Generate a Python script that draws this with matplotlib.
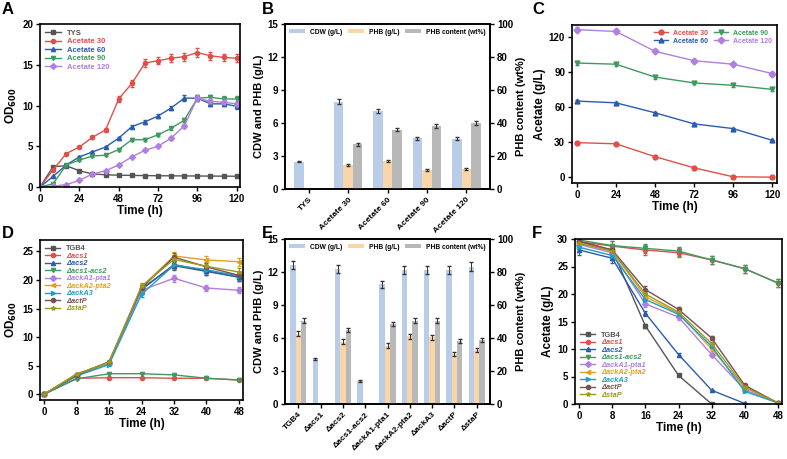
import numpy as np
import matplotlib
matplotlib.use("Agg")
import matplotlib.pyplot as plt

plt.rcParams['font.family'] = ['Liberation Sans', 'DejaVu Sans']
plt.rcParams['font.weight'] = 'bold'
plt.rcParams['axes.linewidth'] = 1.2

# ---- Panel A data ----
tA = list(range(0, 121, 8))
A_TYS = [0, 2.5, 2.6, 2.0, 1.6, 1.5, 1.45, 1.42, 1.4, 1.38, 1.37, 1.36, 1.35, 1.34, 1.33, 1.32]
A_30 = [0, 2.1, 4.1, 4.9, 6.1, 7.0, 10.8, 12.7, 15.2, 15.5, 15.8, 16.0, 16.5, 16.1, 15.9, 15.8]
A_60 = [0, 1.3, 2.7, 3.7, 4.3, 4.9, 6.0, 7.4, 8.0, 8.7, 9.7, 10.9, 10.9, 10.2, 10.2, 9.9]
A_90 = [0, 0.4, 2.7, 3.3, 3.8, 3.9, 4.6, 5.8, 5.8, 6.4, 7.2, 8.2, 10.9, 11.0, 10.8, 10.8]
A_120 = [0, 0.1, 0.3, 0.8, 1.6, 2.0, 2.7, 3.7, 4.5, 5.0, 6.0, 7.5, 10.9, 10.5, 10.4, 10.2]

# ---- Panel B data ----
B_cats = ['TYS', 'Acetate 30', 'Acetate 60', 'Acetate 90', 'Acetate 120']
B_cdw = [2.5, 7.95, 7.1, 4.6, 4.55]
B_phb = [0, 2.15, 2.55, 1.75, 1.8]
B_cont = [0, 27, 36, 38, 40]

# ---- Panel C data ----
tC = [0, 24, 48, 72, 96, 120]
C_30 = [29.5, 28.5, 17.5, 8, 0.3, 0]
C_60 = [65, 63.5, 55, 45.5, 41.5, 31.5]
C_90 = [97.5, 96.5, 85.5, 80.5, 78.5, 75]
C_120 = [126, 124.5, 107.5, 99.5, 96.5, 88.5]

# ---- Panel D data ----
tD = [0, 8, 16, 24, 32, 40, 48]
strains = ['TGB4', 'Δacs1', 'Δacs2', 'Δacs1-acs2', 'ΔackA1-pta1', 'ΔackA2-pta2', 'ΔackA3', 'ΔactP', 'ΔstaP']
D_vals = [
    [0, 3.4, 5.5, 18.5, 22.5, 21.5, 20.5],
    [0, 2.8, 2.9, 2.9, 2.8, 2.8, 2.5],
    [0, 3.3, 5.4, 18.3, 22.7, 21.6, 20.5],
    [0, 2.7, 3.6, 3.6, 3.4, 2.8, 2.5],
    [0, 3.3, 5.4, 18.2, 20.3, 18.6, 18.2],
    [0, 3.6, 5.5, 18.8, 24.2, 23.5, 23.2],
    [0, 3.2, 5.2, 17.5, 22.6, 21.8, 20.7],
    [0, 3.4, 5.7, 18.6, 24.0, 22.3, 20.8],
    [0, 3.5, 5.6, 18.9, 23.6, 22.4, 21.4],
]

# ---- Panel E data ----
E_cdw = [12.65, 4.1, 12.3, 2.1, 10.9, 12.2, 12.2, 12.2, 12.5]
E_phb = [6.4, 0, 5.65, 0, 5.3, 6.15, 6.05, 4.55, 4.9]
E_cont = [50.5, 0, 45, 0, 48.5, 50.5, 50.5, 38, 39]

# ---- Panel F data ----
nan = np.nan
F_vals = [
    [29.5, 28, 14.2, 5.2, 0, nan, nan],
    [29.5, 28.7, 28, 27.5, 26.2, 24.6, 22],
    [28, 26.5, 16.5, 9, 2.5, 0.1, nan],
    [29.8, 28.8, 28.3, 27.8, 26.2, 24.6, 22],
    [29, 27.5, 18.2, 15.8, 9, 2.6, 0.2],
    [29.3, 27.8, 19.5, 16.5, 10, 3, 0.2],
    [28.5, 27, 19, 16.3, 10.5, 2.3, 0.2],
    [29.6, 28, 20.8, 17.2, 12, 3.4, 0.2],
    [29.2, 27.8, 20, 16.7, 11, 3.1, 0.2],
]

cols4 = ['#555555', '#e0504a', '#2a5db0', '#3f9a5f', '#b07fe0']
colsS = ['#555555', '#e0504a', '#2a5db0', '#3f9a5f', '#b07fe0', '#e0a020', '#1fa0c0', '#7b5050', '#9a9a20']
marksS = ['s', 'o', '^', 'v', 'D', '<', '>', 'o', '*']
c_cdw, c_phb, c_cont = '#b9cde9', '#f9d6aa', '#b8b8b8'

TS = 7      # tick label size
LS = 8.5    # axis label size

fig = plt.figure(figsize=(7.87, 4.59), dpi=100)
W, H = 787, 459
def ax_at(x0, y0, x1, y1):
    return fig.add_axes([x0 / W, 1 - y1 / H, (x1 - x0) / W, (y1 - y0) / H])

def style(ax):
    ax.tick_params(labelsize=TS, width=1, length=3, pad=2)
    for l in ax.get_xticklabels() + ax.get_yticklabels():
        l.set_fontweight('bold')

def lbl(s, x, y):
    fig.text(x / W, 1 - y / H, s, fontsize=12, fontweight='bold', va='top', ha='left')

def line_legend(ax, handles, labels, colors, italic_from=None, **kw):
    leg = ax.legend(handles, labels, frameon=False, handlelength=2, borderaxespad=0.3, **kw)
    for i, (t, c) in enumerate(zip(leg.get_texts(), colors)):
        t.set_color(c)
        if italic_from is not None and i >= italic_from:
            t.set_fontstyle('italic')
    return leg

# Panel A
ax = ax_at(40, 24, 240, 187)
hs = []
namesA = ['TYS', 'Acetate 30', 'Acetate 60', 'Acetate 90', 'Acetate 120']
for y, c, m in zip([A_TYS, A_30, A_60, A_90, A_120], cols4, ['s', 'o', '^', 'v', 'D']):
    e = ax.errorbar(tA, y, yerr=np.array(y) * 0.03, color=c, marker=m, ms=3, lw=1, capsize=1.5, elinewidth=0.7)
    hs.append(e[0])
ax.set_xlim(0, 122); ax.set_ylim(0, 20)
ax.set_xticks(range(0, 121, 24)); ax.set_yticks(range(0, 21, 5))
ax.set_xlabel('Time (h)', fontsize=LS, fontweight='bold', labelpad=1)
ax.set_ylabel('OD$_{600}$', fontsize=LS, fontweight='bold', labelpad=2)
line_legend(ax, hs, namesA, cols4, loc='upper left', fontsize=5.5, labelspacing=0.15)
style(ax)
lbl('A', 2, 2)

def barpanel(rect, cats, cdw, phb, cont, rot, xfs):
    ax = ax_at(*rect)
    ax2 = ax.twinx()
    x = np.arange(len(cats)); w = 0.24
    ek = dict(elinewidth=0.7, ecolor='#333')
    ax.bar(x - w, cdw, w, color=c_cdw, yerr=np.array(cdw) * 0.03, capsize=1.5, error_kw=ek, label='CDW (g/L)')
    ax.bar(x, phb, w, color=c_phb, yerr=np.array(phb) * 0.04, capsize=1.5, error_kw=ek, label='PHB (g/L)')
    ax2.bar(x + w, cont, w, color=c_cont, yerr=np.array(cont) * 0.03, capsize=1.5, error_kw=ek, label='PHB content (wt%)')
    ax.set_ylim(0, 15); ax.set_yticks(range(0, 16, 3))
    ax2.set_ylim(0, 100); ax2.set_yticks(range(0, 101, 20))
    ax.set_xlim(-0.6, len(cats) - 0.4)
    ax.set_xticks(x)
    ax.set_xticklabels(cats, rotation=rot, ha='right', rotation_mode='anchor')
    ax.set_ylabel('CDW and PHB (g/L)', fontsize=LS - 0.5, fontweight='bold', labelpad=2)
    ax2.set_ylabel('PHB content (wt%)', fontsize=LS - 0.5, fontweight='bold', labelpad=2)
    h1, l1 = ax.get_legend_handles_labels(); h2, l2 = ax2.get_legend_handles_labels()
    ax.legend(h1 + h2, l1 + l2, loc='upper center', ncol=3, fontsize=4.8, frameon=False,
              handlelength=2.4, handleheight=0.6, columnspacing=0.8, borderaxespad=0.3)
    style(ax); style(ax2)
    for l in ax.get_xticklabels():
        l.set_fontsize(xfs)
    return ax

barpanel((285, 24, 490, 189), B_cats, B_cdw, B_phb, B_cont, 45, 6)
lbl('B', 262, 2)

# Panel C
ax = ax_at(572, 25, 777, 183)
hs = []
for y, c, m in zip([C_30, C_60, C_90, C_120], cols4[1:], ['o', '^', 'v', 'D']):
    e = ax.errorbar(tC, y, yerr=np.array(y) * 0.015, color=c, marker=m, ms=3.5, lw=1, capsize=1.5, elinewidth=0.7)
    hs.append(e[0])
ax.set_xlim(-3, 123); ax.set_ylim(-5, 130)
ax.set_xticks(tC); ax.set_yticks(range(0, 121, 30))
ax.set_xlabel('Time (h)', fontsize=LS, fontweight='bold', labelpad=1)
ax.set_ylabel('Acetate (g/L)', fontsize=LS, fontweight='bold', labelpad=2)
line_legend(ax, hs, ['Acetate 30', 'Acetate 60', 'Acetate 90', 'Acetate 120'], cols4[1:],
            loc='upper right', ncol=2, fontsize=5, labelspacing=0.1, columnspacing=0.8)
style(ax)
lbl('C', 532, 2)

def strainlines(ax, t, vals):
    hs = []
    for y, c, m in zip(vals, colsS, marksS):
        e = ax.errorbar(t, y, yerr=np.abs(np.array(y)) * 0.03, color=c, marker=m, ms=3, lw=1, capsize=1.5, elinewidth=0.7)
        hs.append(e[0])
    return hs

# Panel D
ax = ax_at(40, 240, 243, 400)
hs = strainlines(ax, tD, D_vals)
ax.set_xlim(-1, 49); ax.set_ylim(-1, 27)
ax.set_xticks(tD); ax.set_yticks(range(0, 26, 5))
ax.set_xlabel('Time (h)', fontsize=LS, fontweight='bold', labelpad=1)
ax.set_ylabel('OD$_{600}$', fontsize=LS, fontweight='bold', labelpad=2)
line_legend(ax, hs, strains, colsS, italic_from=1, loc='upper left', fontsize=5.3, labelspacing=0.05)
style(ax)
lbl('D', 2, 226)

# Panel E
barpanel((285, 239, 490, 404), strains, E_cdw, E_phb, E_cont, 45, 6)
lbl('E', 262, 226)

# Panel F
ax = ax_at(575, 239, 782, 404)
hs = strainlines(ax, tD, F_vals)
ax.set_xlim(-1, 49); ax.set_ylim(0, 30)
ax.set_xticks(tD); ax.set_yticks(range(0, 31, 5))
ax.set_xlabel('Time (h)', fontsize=LS, fontweight='bold', labelpad=1)
ax.set_ylabel('Acetate (g/L)', fontsize=LS, fontweight='bold', labelpad=2)
line_legend(ax, hs, strains, colsS, italic_from=1, loc='lower left', fontsize=5.3, labelspacing=0.05)
style(ax)
lbl('F', 532, 226)

fig.savefig('out.png', dpi=100)
